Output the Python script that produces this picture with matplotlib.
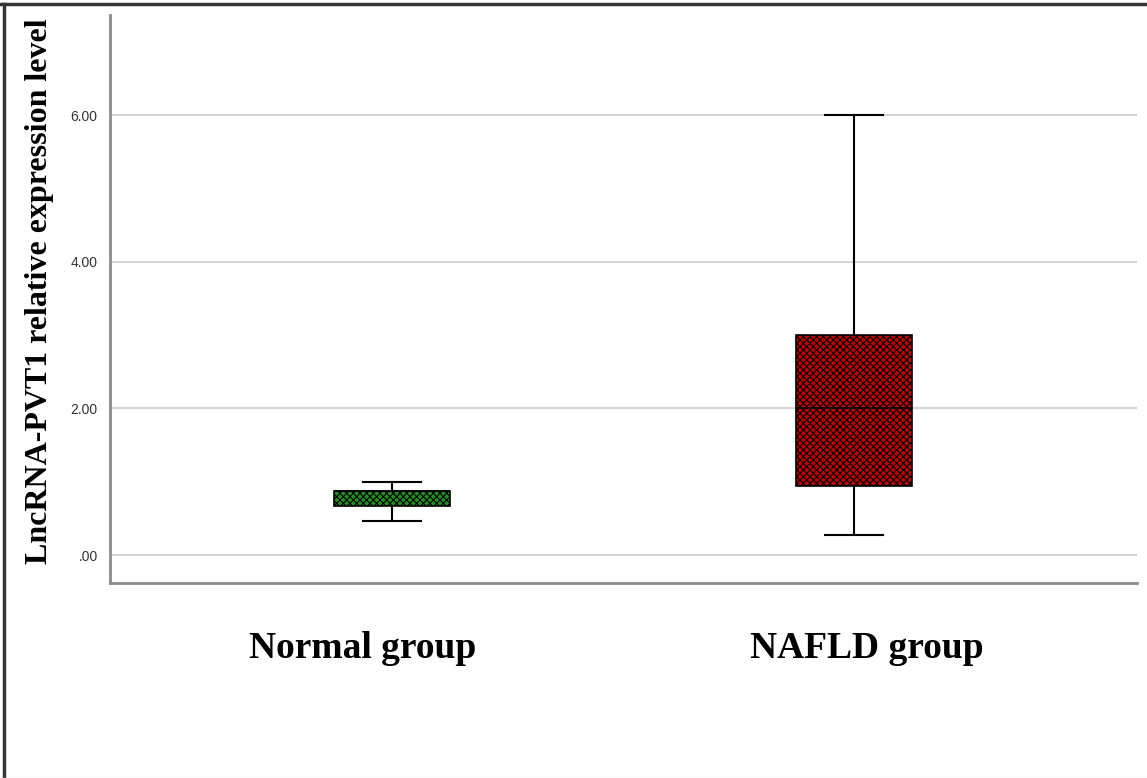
import matplotlib.pyplot as plt
import matplotlib.transforms as mtransforms
from matplotlib.lines import Line2D
from matplotlib.ticker import FuncFormatter

# values
groups = ['Normal group', 'NAFLD group']
whis_low = [0.47, 0.27]
q1 = [0.67, 0.94]
median = [0.88, 2.00]
q3 = [0.88, 3.00]
whis_high = [0.99, 6.00]
box_colors = ['#239023', '#c00000']
yticks = [0, 2, 4, 6]

W, H = 1147, 778
plt.rcParams['hatch.linewidth'] = 0.8

fig = plt.figure(figsize=(W / 100, H / 100), dpi=100)
ax = fig.add_axes([110 / W, 1 - 583 / H, (1137 - 110) / W, (583 - 15) / H])

stats = []
for i in range(len(groups)):
    stats.append({'whislo': whis_low[i], 'q1': q1[i], 'med': median[i],
                  'q3': q3[i], 'whishi': whis_high[i], 'fliers': [], 'label': groups[i]})

bp = ax.bxp(stats, positions=[1, 2], widths=0.251, patch_artist=True,
            showfliers=False,
            boxprops=dict(linewidth=1.2, edgecolor='black'),
            medianprops=dict(color='black', linewidth=1.2),
            whiskerprops=dict(color='black', linewidth=1.5),
            capprops=dict(color='black', linewidth=1.5),
            capwidths=0.126, zorder=3)
for patch, c in zip(bp['boxes'], box_colors):
    patch.set_facecolor(c)
    patch.set_hatch('xxxxx')

ax.set_xlim(0.39, 2.613)
ax.set_ylim(-0.382, 7.37)
ax.set_yticks(yticks)
ax.yaxis.set_major_formatter(FuncFormatter(lambda v, p: '.00' if v == 0 else '%.2f' % v))
ax.tick_params(axis='y', length=0, pad=9, labelsize=10, labelcolor='#333333')
for lbl in ax.get_yticklabels():
    lbl.set_family('Liberation Sans')
ax.set_xticks([])
ax.grid(axis='y', color='#d4d4d4', linewidth=1.5, zorder=0)
ax.set_axisbelow(True)
for s in ['top', 'right']:
    ax.spines[s].set_visible(False)
for s in ['left', 'bottom']:
    ax.spines[s].set_color('#8c8c8c')
    ax.spines[s].set_linewidth(2)

# group labels under the boxes
label_x = [0.937, 2.028]
trans = mtransforms.blended_transform_factory(ax.transData, fig.transFigure)
for x, g in zip(label_x, groups):
    ax.text(x, 1 - 648 / H, g, transform=trans,
            ha='center', va='center', fontsize=27, fontweight='bold',
            family='Liberation Serif')

fig.text(40 / W, 1 - 291 / H, 'LncRNA-PVT1 relative expression level', rotation=90,
         ha='center', va='center', fontsize=23, fontweight='bold',
         family='Liberation Serif')

# outer frame of the screenshot
fig.add_artist(Line2D([0, 1], [1 - 4 / H, 1 - 4 / H], transform=fig.transFigure,
                      color='#333333', linewidth=2.5))
fig.add_artist(Line2D([4 / W, 4 / W], [0, 1 - 4 / H], transform=fig.transFigure,
                      color='#333333', linewidth=2.5))
fig.add_artist(Line2D([0, 1], [0.5 / H, 0.5 / H], transform=fig.transFigure,
                      color='#dddddd', linewidth=1))

fig.savefig('out.png', dpi=100)
